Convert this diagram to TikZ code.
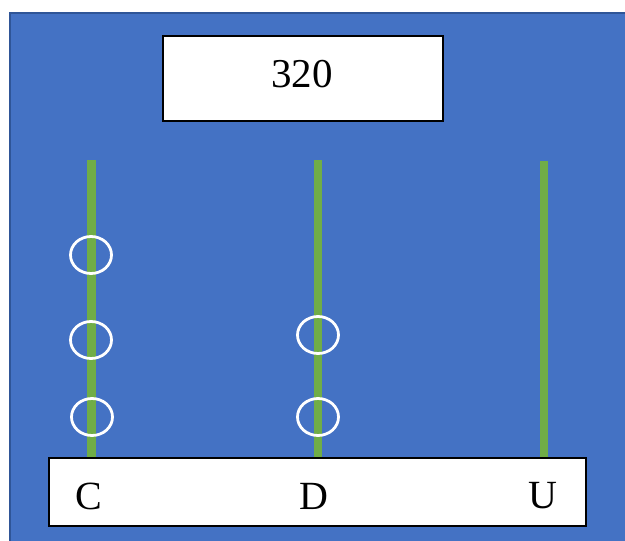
\documentclass[tikz,border=0pt]{standalone}
\usepackage{fontspec}
\setmainfont{Liberation Serif}
\usetikzlibrary{shapes.geometric}
\definecolor{bg}{HTML}{4472C4}
\definecolor{bgedge}{HTML}{2F5597}
\definecolor{rod}{HTML}{70AD47}
\tikzset{
  whitebox/.style={draw=black, line width=1.5pt, fill=white},
  rodline/.style={draw=rod, line width=8.5pt},
  bead/.style={draw=white, line width=2.8pt, ellipse, minimum width=41pt, minimum height=37pt, inner sep=0pt},
  lbl/.style={font=\fontsize{40}{44}\selectfont, inner sep=0pt}
}
\begin{document}
\begin{tikzpicture}[x=1pt,y=-1pt]
\useasboundingbox (0,0) rectangle (625,541);
\fill[bg] (9,12) rectangle (625,541);
\draw[bgedge, line width=2pt] (9.5,541) -- (9.5,12.5) -- (625,12.5);
% top box
\node[whitebox, minimum width=280pt, minimum height=85pt, inner sep=0pt] (top) at (303,78.5) {};
\node[font=\fontsize{41}{45}\selectfont, inner sep=0pt] (num) at (302,74) {320};
% rods
\coordinate (ct) at (91.5,160);
\coordinate (dt) at (318,160);
\coordinate (ut) at (544,161);
\coordinate (cb) at (91.5,459);
\coordinate (db) at (318,459);
\coordinate (ub) at (544,459);
\draw[rodline] (ct) -- (cb);
\draw[rodline] (dt) -- (db);
\draw[rodline] (ut) -- (ub);
% beads
\node[bead] (c1) at (91,255) {};
\node[bead] (c2) at (91,340) {};
\node[bead] (c3) at (92,417) {};
\node[bead] (d1) at (318,335) {};
\node[bead] (d2) at (318,417) {};
% bottom box
\node[whitebox, minimum width=537pt, minimum height=68pt, inner sep=0pt] (bot) at (317.5,492) {};
\node[lbl] (C) at (89,496) {C};
\node[lbl] (D) at (314,496) {D};
\node[lbl] (U) at (543,496) {U};
\end{tikzpicture}
\end{document}
